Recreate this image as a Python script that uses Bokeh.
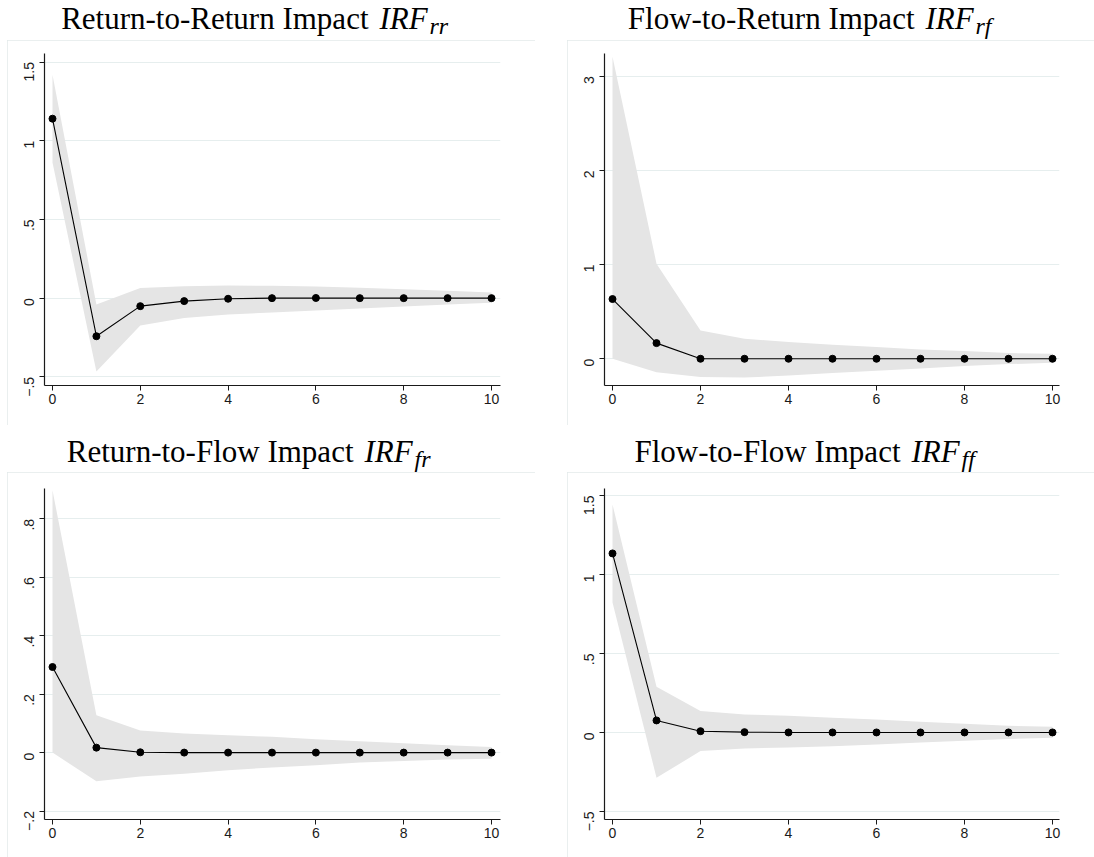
import math
from bokeh.plotting import figure
from bokeh.layouts import row, column, Spacer
from bokeh.models import Range1d, FixedTicker
from bokeh.core.properties import value
from bokeh.embed import file_html
from bokeh.resources import INLINE

# ---------------- data ----------------
horizon = [0, 1, 2, 3, 4, 5, 6, 7, 8, 9, 10]
x_ticks = [0, 2, 4, 6, 8, 10]

# Return-to-Return
irf_rr = [1.140, -0.242, -0.051, -0.019, -0.004, 0.000, 0.001, 0.000, 0.000, 0.000, 0.000]
rr_hi = [1.419, -0.040, 0.064, 0.076, 0.080, 0.078, 0.074, 0.066, 0.057, 0.047, 0.036]
rr_lo = [0.862, -0.466, -0.174, -0.127, -0.104, -0.091, -0.078, -0.066, -0.053, -0.040, -0.030]

# Flow-to-Return
irf_rf = [0.634, 0.166, 0.000, 0.000, 0.000, 0.000, 0.000, 0.000, 0.000, 0.000, 0.000]
rf_hi = [3.206, 1.010, 0.301, 0.213, 0.177, 0.149, 0.124, 0.099, 0.081, 0.060, 0.053]
rf_lo = [0.000, -0.142, -0.195, -0.200, -0.177, -0.152, -0.128, -0.103, -0.078, -0.057, -0.043]

# Return-to-Flow
irf_fr = [0.293, 0.017, 0.001, 0.000, 0.000, 0.000, 0.000, 0.000, 0.000, 0.000, 0.000]
fr_hi = [0.898, 0.128, 0.076, 0.065, 0.059, 0.054, 0.046, 0.039, 0.032, 0.025, 0.019]
fr_lo = [0.000, -0.098, -0.082, -0.072, -0.060, -0.051, -0.043, -0.034, -0.029, -0.024, -0.021]

# Flow-to-Flow
irf_ff = [1.133, 0.076, 0.008, 0.002, 0.000, 0.000, 0.000, 0.000, 0.000, 0.000, 0.000]
ff_hi = [1.443, 0.289, 0.135, 0.114, 0.105, 0.093, 0.082, 0.068, 0.055, 0.042, 0.036]
ff_lo = [0.823, -0.287, -0.118, -0.101, -0.095, -0.087, -0.076, -0.063, -0.053, -0.042, -0.034]

ticks_rr = [-0.5, 0, 0.5, 1, 1.5]
labels_rr = ["\u2212.5", "0", ".5", "1", "1.5"]
ticks_rf = [0, 1, 2, 3]
labels_rf = ["0", "1", "2", "3"]
ticks_fr = [-0.2, 0, 0.2, 0.4, 0.6, 0.8]
labels_fr = ["\u2212.2", "0", ".2", ".4", ".6", ".8"]
ticks_ff = [-0.5, 0, 0.5, 1, 1.5]
labels_ff = ["\u2212.5", "0", ".5", "1", "1.5"]

titles_main = ["Return-to-Return Impact", "Flow-to-Return Impact",
               "Return-to-Flow Impact", "Flow-to-Flow Impact"]
titles_irf = ["IRF", "IRF", "IRF", "IRF"]
titles_sub = ["rr", "rf", "fr", "ff"]

# ---------------- styling ----------------
SERIF = "Liberation Serif"
SANS = "Liberation Sans"
BAND = "#e5e5e5"
GRID = "#e6eeee"
BOX = "#e3eaea"
CELL_W = 547


def title_fig(h, base, main, irf, sub, main_right):
    t = figure(width=CELL_W, height=h, x_range=Range1d(0, CELL_W), y_range=Range1d(0, h),
               output_backend="svg", toolbar_location=None, title=None, min_border=0,
               x_axis_type=None, y_axis_type=None, outline_line_color=None,
               background_fill_color="white", border_fill_color="white")
    ymid = h - (base - 10)
    t.text(x=[main_right], y=[ymid], text=[main], text_font=value(SERIF),
           text_font_size="31px", text_align="right", text_baseline="middle",
           text_color="black")
    t.text(x=[main_right + 11], y=[ymid], text=[irf], text_font=value(SERIF),
           text_font_size="31px", text_font_style="italic", text_align="left",
           text_baseline="middle", text_color="black")
    t.text(x=[main_right + 61], y=[ymid - 7], text=[sub], text_font=value(SERIF),
           text_font_size="24px", text_font_style="italic", text_align="left",
           text_baseline="middle", text_color="black")
    return t


def panel(w, h, xr, yr, yticks, ylabels, irf, hi, lo, top, bottom):
    p = figure(width=w, height=h, x_range=Range1d(*xr), y_range=Range1d(*yr),
               output_backend="svg", toolbar_location=None, title=None,
               min_border_left=37, min_border_right=35,
               min_border_top=top, min_border_bottom=bottom,
               background_fill_color="white", border_fill_color="white",
               outline_line_color=None)
    p.styles = {"outline": "1px solid " + BOX, "outline-offset": "-1px"}
    p.varea(x=horizon, y1=lo, y2=hi, fill_color=BAND, fill_alpha=1.0)
    p.line(x=horizon, y=irf, line_color="black", line_width=1.1)
    p.scatter(x=horizon, y=irf, size=7, fill_color="black", line_color="black")

    p.xgrid.visible = False
    p.ygrid.grid_line_color = GRID
    p.ygrid.grid_line_width = 1.2

    p.xaxis.ticker = FixedTicker(ticks=x_ticks)
    p.yaxis.ticker = FixedTicker(ticks=yticks)
    p.yaxis.major_label_overrides = {t: l for t, l in zip(yticks, ylabels)}
    p.yaxis.major_label_orientation = math.pi / 2
    for ax in (p.xaxis, p.yaxis):
        ax.axis_line_color = "#1a1a1a"
        ax.axis_line_width = 1.2
        ax.major_tick_line_color = "#1a1a1a"
        ax.major_tick_in = 0
        ax.major_tick_out = 5
        ax.minor_tick_line_color = None
        ax.major_label_text_font = SANS
        ax.major_label_text_font_size = "14px"
        ax.major_label_text_color = "#1a1a1a"
    p.xaxis.major_label_standoff = 3
    p.yaxis.major_label_standoff = 10
    return p


# Top-left
t_tl = title_fig(40, 28, titles_main[0], titles_irf[0], titles_sub[0], 368)
p_tl = panel(528, 385, (-0.182, 10.205), (-0.555, 1.554), ticks_rr, labels_rr,
             irf_rr, rr_hi, rr_lo, 13, 40)
cell_tl = column(t_tl, row(Spacer(width=7, height=385), p_tl, Spacer(width=12, height=385)),
                 Spacer(width=CELL_W, height=3))

# Top-right
t_tr = title_fig(40, 28, titles_main[1], titles_irf[1], titles_sub[1], 367)
p_tr = panel(527, 385, (-0.182, 10.159), (-0.284, 3.241), ticks_rf, labels_rf,
             irf_rf, rf_hi, rf_lo, 13, 40)
cell_tr = column(t_tr, row(Spacer(width=20, height=385), p_tr),
                 Spacer(width=CELL_W, height=3))

# Bottom-left
t_bl = title_fig(44, 33, titles_main[2], titles_irf[2], titles_sub[2], 353)
p_bl = panel(528, 385, (-0.182, 10.205), (-0.229, 0.904), ticks_fr, labels_fr,
             irf_fr, fr_hi, fr_lo, 16, 38)
cell_bl = column(t_bl, row(Spacer(width=7, height=385), p_bl, Spacer(width=12, height=385)))

# Bottom-right
t_br = title_fig(44, 33, titles_main[3], titles_irf[3], titles_sub[3], 353)
p_br = panel(527, 385, (-0.182, 10.159), (-0.551, 1.544), ticks_ff, labels_ff,
             irf_ff, ff_hi, ff_lo, 16, 38)
cell_br = column(t_br, row(Spacer(width=20, height=385), p_br))

layout = column(row(cell_tl, cell_tr), row(cell_bl, cell_br))

open("out.html", "w").write(file_html(layout, INLINE))
